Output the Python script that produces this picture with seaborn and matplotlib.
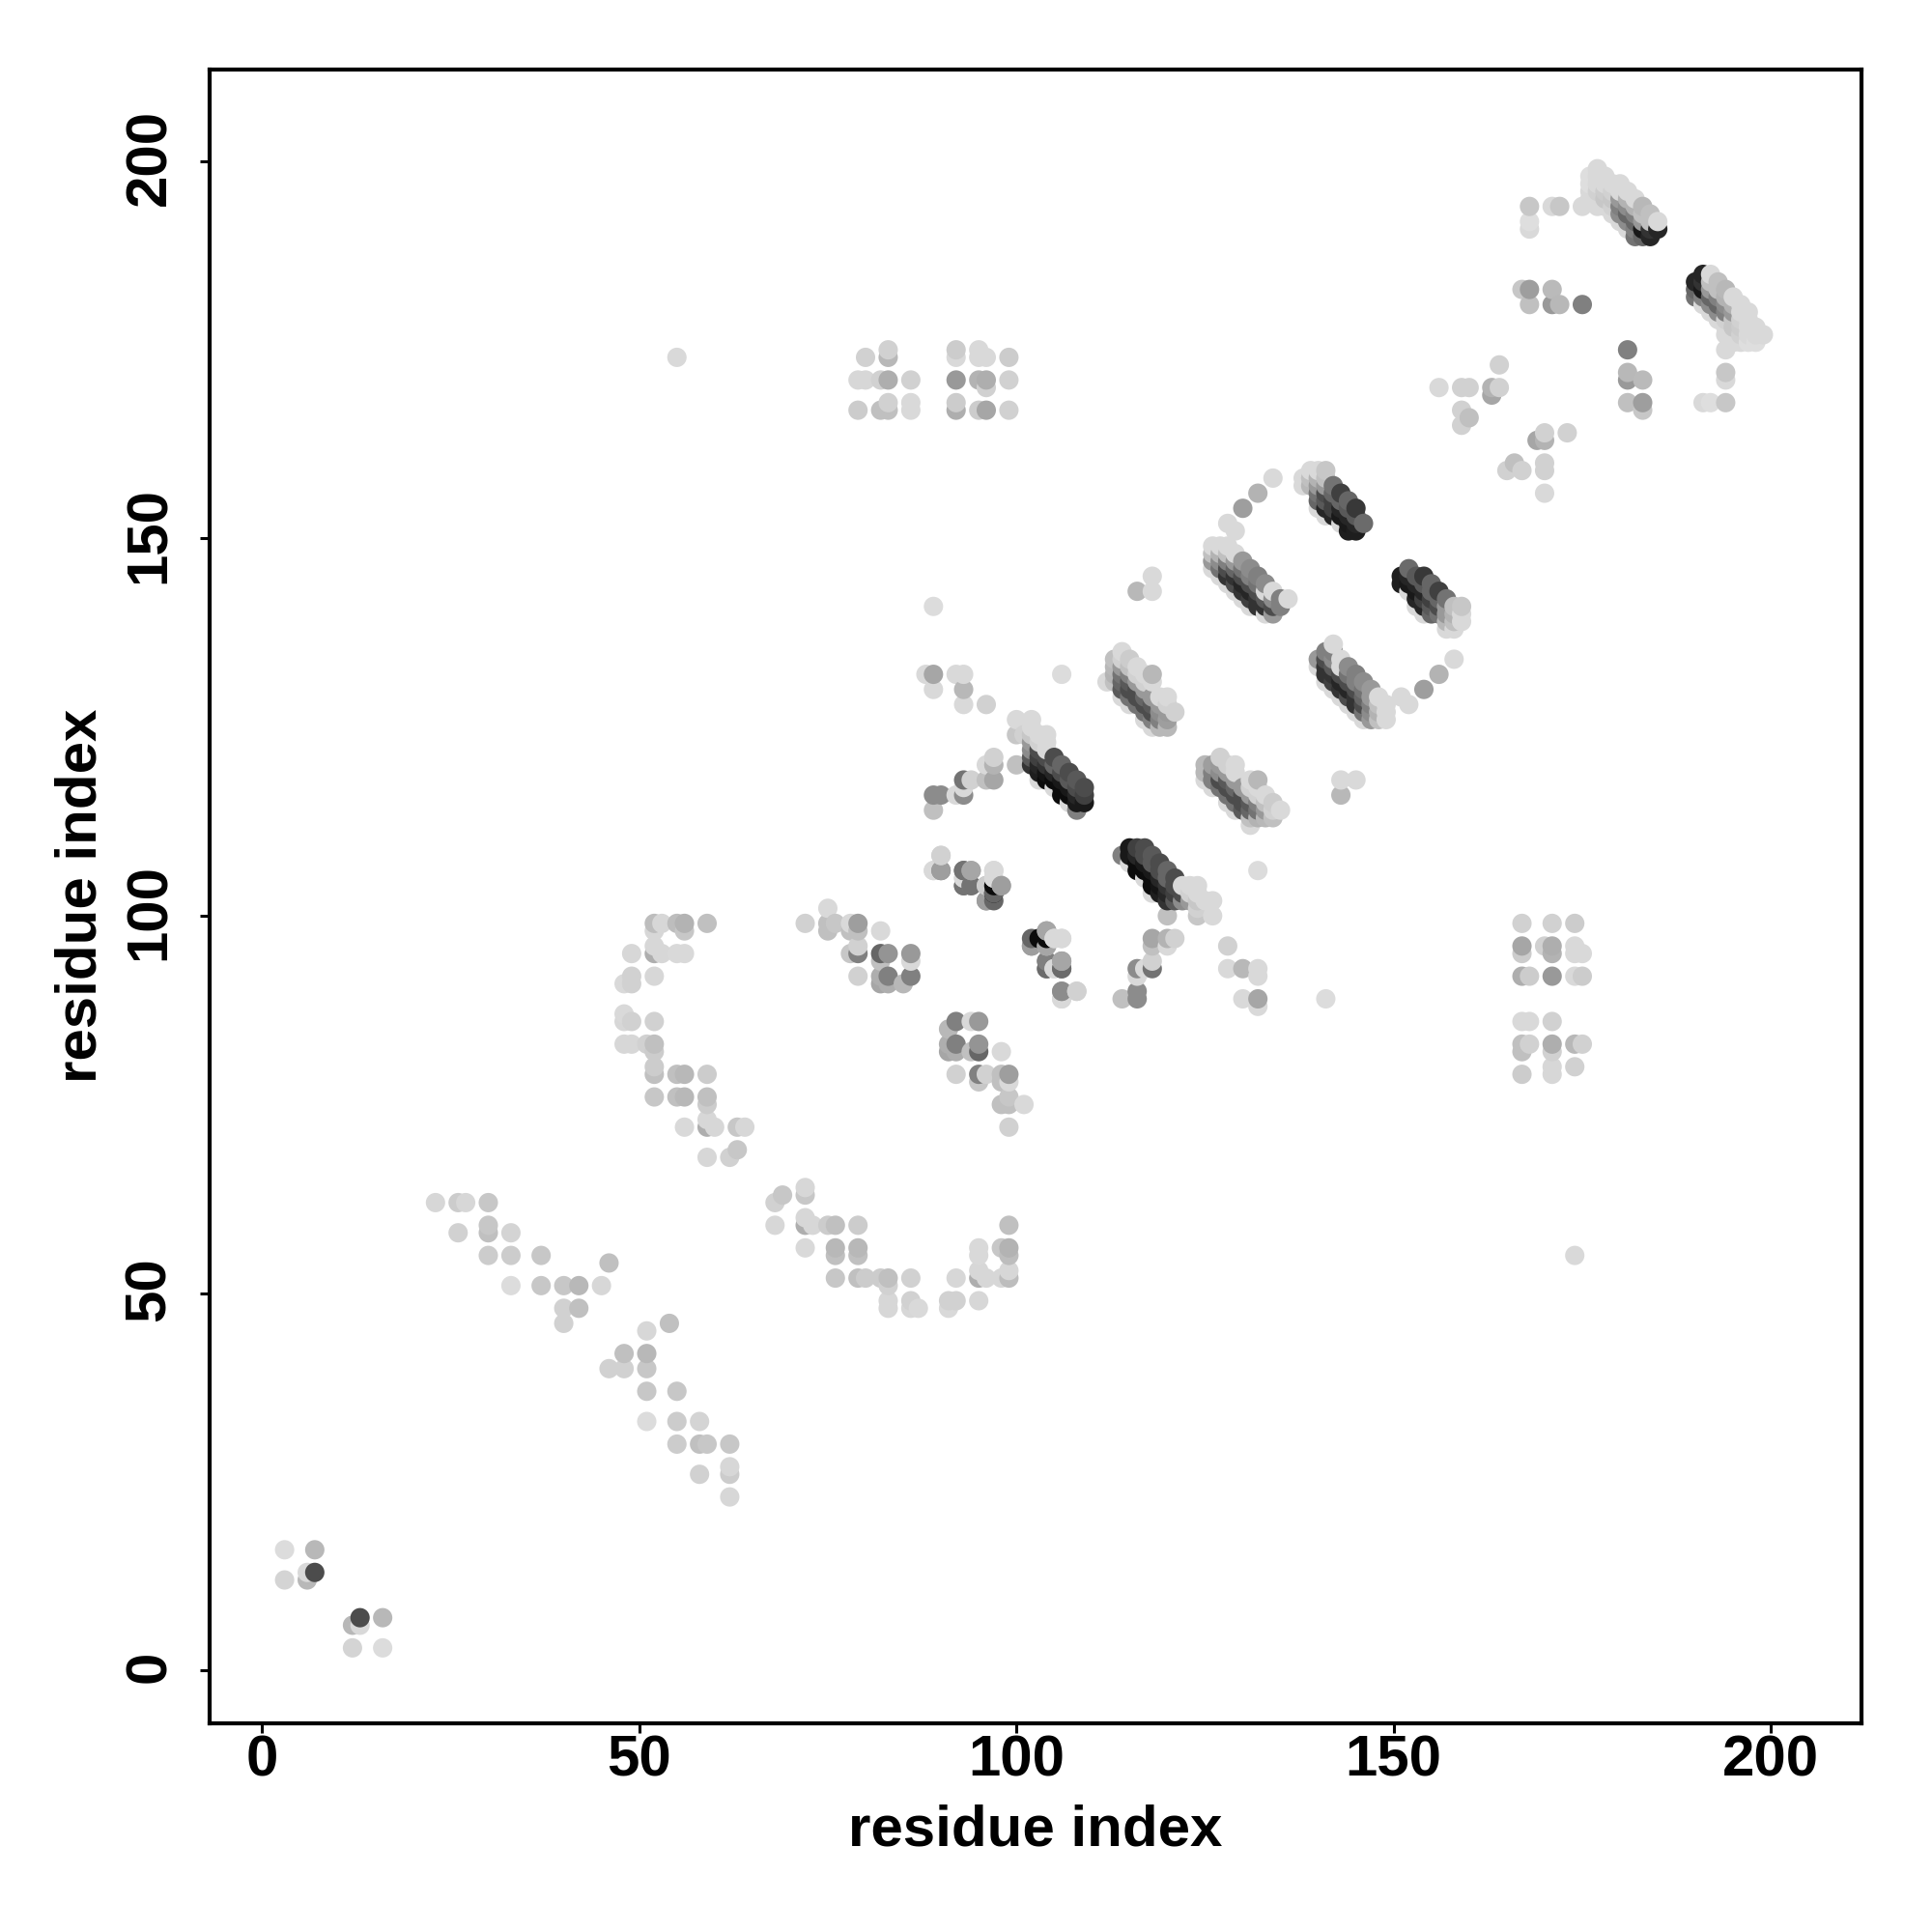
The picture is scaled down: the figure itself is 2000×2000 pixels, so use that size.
import pandas as pd
import numpy as np

import seaborn as sns
import matplotlib.pyplot as plt
from matplotlib.transforms import ScaledTranslation

# contacts are (residue i, residue j, grey level), the map is symmetric so only i<j is listed
terminal = [(3,12,.83),(3,16,.86),(6,12,.72),(6,13,.85),(7,13,.3),(7,16,.72)]

arm_a = [(23,62,.84),(26,62,.8),(27,62,.84),(30,62,.78),(26,58,.82),(30,58,.75),(30,59,.78),
         (33,58,.83),(30,55,.8),(33,55,.8),(37,55,.78),(33,51,.86),(37,51,.78),(40,51,.78),
         (42,51,.72),(45,51,.84),(46,54,.75),(40,48,.82),(42,48,.75),(40,46,.82)]

arm_b = [(48,83,.84),(49,83,.84),(48,86,.84),(49,86,.82),(48,87,.85),(48,91,.85),(49,91,.82),
         (49,92,.82),(49,95,.84),(52,76,.78),(52,79,.75),(52,80,.8),(52,82,.8),(52,83,.75),
         (51,83,.82),(52,86,.82),(52,92,.84),(52,95,.68),(53,95,.84),(52,96,.84),(52,98,.84),
         (52,99,.74),(53,99,.84),(55,76,.75),(56,76,.72),(55,79,.75),(56,79,.72),(55,95,.85),
         (56,95,.85),(56,98,.78),(55,99,.74),(56,99,.7),(56,72,.85),(59,68,.84),(59,72,.68),
         (60,72,.84),(59,73,.84),(59,75,.8),(59,76,.75),(59,79,.8),(59,99,.75),(62,68,.82),
         (63,69,.78),(63,72,.78),(64,72,.84),(55,174,.85)]

block_a = [(72,99,.82),(75,98,.75),(75,99,.75),(75,101,.85),(76,99,.78),(78,95,.78),(78,98,.75),
           (78,99,.85),(79,92,.82),(79,95,.5),(79,96,.82),(79,98,.75),(79,99,.62),(82,91,.65),
           (82,92,.68),(82,94,.75),(82,95,.4),(82,98,.85),(83,91,.68),(83,92,.5),(83,95,.58),
           (85,91,.72),(86,92,.5),(86,94,.85),(86,95,.6)]

grid_a = [(79,167,.8),(79,171,.84),(80,171,.84),(80,174,.82),(82,167,.75),(82,171,.82),(83,167,.75),
          (83,168,.82),(83,171,.68),(83,174,.72),(83,175,.82),(86,167,.85),(86,168,.85),(86,171,.82),
          (92,167,.68),(92,168,.8),(92,171,.6),(92,174,.85),(92,175,.8),(95,167,.8),(95,171,.7),
          (95,174,.85),(95,175,.85),(96,167,.65),(96,170,.82),(96,171,.68),(96,174,.85),(99,167,.82),
          (99,171,.82),(99,174,.8)]

scatter_a = [(88,132,.85),(89,132,.65),(89,130,.85),(92,132,.85),(93,132,.85),(93,130,.72),(93,128,.85),
             (96,128,.82),(106,132,.86),(89,141,.86),(116,143,.72),(118,143,.85),(118,145,.85),
             (97,121,.82),(97,120,.7),(96,120,.85),(97,118,.65),(96,118,.75),(93,118,.45),(94,118,.82),
             (93,117,.85),(93,116,.55),(92,116,.85),(89,116,.55),(90,116,.55),(89,114,.75),
             (90,108,.82),(89,106,.85),(90,106,.55),(93,106,.42),(94,106,.65),(93,105,.85),(93,104,.42),
             (94,104,.5),(97,106,.85),(97,105,.85),(96,104,.65),(98,104,.65),(97,103,.05),(97,102,.4),
             (96,102,.62),(104,98,.62),(103,97,.4),(104,97,.05),(105,97,.85),(106,97,.85),(102,96,.62),
             (104,96,.8),(104,94,.45),(104,93,.45),(105,93,.85),(106,94,.65),(106,93,.45),(106,90,.62),
             (108,90,.82),(106,89,.85)]

strip_a = [(100,126,.85),(100,124,.78),(100,120,.75),(101,124,.82),(102,126,.85),(102,125,.85),(102,124,.78),
           (102,123,.6),(102,122,.55),(102,121,.35),(102,120,.2),(103,124,.85),(103,123,.82),(103,122,.3),
           (103,121,.25),(103,120,.15),(103,119,.12),(103,118,.85),(104,124,.85),(104,123,.85),(104,122,.85),
           (104,121,.3),(104,120,.2),(104,119,.08),(104,118,.05),(105,121,.3),(105,120,.4),(105,119,.15),
           (105,118,.05),(105,117,.85),(106,120,.4),(106,119,.3),(106,118,.1),(106,117,.05),(106,116,.05),
           (107,119,.3),(107,118,.35),(107,117,.1),(107,116,.05),(107,115,.85),(108,118,.35),(108,117,.3),
           (108,116,.15),(108,115,.1),(108,114,.5),(109,117,.3),(109,116,.25),(109,115,.1)]

strip_b = [(112,131,.85),(113,134,.75),(113,133,.72),(113,132,.7),(113,131,.75),(114,135,.85),(114,134,.82),
           (114,133,.6),(114,132,.45),(114,131,.4),(114,130,.35),(114,129,.85),(115,134,.8),(115,133,.75),
           (115,132,.5),(115,131,.35),(115,130,.3),(115,129,.45),(115,128,.85),(116,133,.85),(116,132,.82),
           (116,131,.6),(116,130,.3),(116,129,.3),(116,128,.45),(117,132,.85),(117,131,.82),(117,130,.6),
           (117,129,.4),(117,128,.3),(117,127,.45),(117,126,.85),(118,132,.72),(118,131,.85),(118,129,.6),
           (118,128,.35),(118,127,.3),(118,126,.5),(118,125,.85),(119,129,.85),(119,128,.6),(119,127,.55),
           (119,126,.5),(119,125,.72),(120,129,.85),(120,128,.82),(120,127,.6),(120,126,.62),(120,125,.72),
           (121,127,.82)]

strip_d = [(126,149,.85),(126,148,.75),(126,147,.6),(126,146,.85),(127,149,.85),(127,148,.7),(127,147,.55),
           (127,146,.45),(127,145,.85),(128,149,.85),(128,148,.75),(128,147,.5),(128,146,.3),(128,145,.2),
           (128,144,.85),(129,148,.85),(129,147,.6),(129,146,.4),(129,145,.2),(129,144,.3),(129,143,.85),
           (130,147,.6),(130,146,.45),(130,145,.3),(130,144,.15),(130,143,.2),(130,142,.85),(131,146,.55),
           (131,145,.5),(131,144,.3),(131,143,.15),(131,142,.25),(131,141,.85),(132,145,.5),(132,144,.45),
           (132,143,.3),(132,142,.2),(132,141,.2),(133,144,.55),(133,143,.85),(133,142,.35),(133,141,.2),
           (133,140,.85),(134,143,.85),(134,142,.55),(134,141,.3),(134,140,.6),(135,142,.5),(135,141,.5),
           (136,142,.85)]

turn_c = [(128,152,.85),(129,151,.85),(130,154,.62),(132,156,.7),(134,158,.85)]

strip_e = [(138,158,.85),(138,157,.85),(139,159,.85),(139,158,.75),(139,157,.72),(140,159,.85),(140,158,.7),
           (140,157,.6),(140,156,.45),(140,155,.4),(140,154,.85),(141,159,.78),(141,158,.75),(141,157,.6),
           (141,156,.3),(141,155,.35),(141,154,.15),(141,153,.85),(142,157,.45),(142,156,.4),(142,155,.25),
           (142,154,.25),(142,153,.15),(143,156,.25),(143,155,.4),(143,154,.15),(143,153,.1),(143,152,.85),
           (144,155,.4),(144,154,.35),(144,153,.15),(144,152,.1),(144,151,.12),(145,154,.22),(145,153,.35),
           (145,152,.15),(145,151,.12),(146,152,.42)]

cterm = [(156,170,.85),(159,165,.82),(159,167,.82),(159,170,.82),(160,166,.75),(160,170,.82),
         (163,169,.65),(163,170,.7),(164,170,.82),(164,173,.82),(167,183,.78),(168,181,.75),
         (168,183,.62),(168,191,.85),(168,192,.87),(168,194,.78),(171,181,.6),(171,183,.73),
         (171,194,.85),(172,181,.72),(172,194,.78),(175,181,.5),(175,194,.85)]

strip_h = [(176,198,.87),(176,197,.87),(176,196,.85),(176,195,.85),(177,199,.85),(177,198,.85),(177,197,.85),
           (177,196,.82),(177,195,.85),(177,194,.85),(178,198,.85),(178,197,.85),(178,196,.8),(178,195,.78),
           (178,194,.85),(179,197,.85),(179,196,.82),(179,195,.78),(179,194,.82),(179,193,.85),(180,197,.85),
           (180,196,.85),(180,195,.6),(180,194,.5),(180,193,.55),(180,192,.85),(181,196,.85),(181,195,.7),
           (181,194,.55),(181,193,.4),(181,192,.55),(181,191,.85),(182,195,.85),(182,194,.7),(182,193,.5),
           (182,192,.4),(182,191,.5),(182,190,.45),(183,194,.72),(183,193,.75),(183,192,.6),(183,191,.1),
           (183,190,.4),(184,193,.75),(184,192,.75),(184,191,.2),(184,190,.15),(185,192,.85),(185,191,.15)]

tick_values = [0, 50, 100, 150, 200]
axis_label = "residue index"

groups = [terminal, arm_a, arm_b, block_a, grid_a, scatter_a, strip_a, strip_b, strip_d, turn_c,
          strip_e, cterm, strip_h]

upper = pd.DataFrame(np.concatenate(groups), columns=["i", "j", "grey"])
lower = upper.rename(columns={"i": "j", "j": "i"})
# plotted in index order, later dots sit on top of earlier ones
df = pd.concat([upper, lower]).sort_values(["i", "j"], kind="stable")

sns.set_theme(style="white")
plt.rcParams["font.family"] = ["Liberation Sans", "DejaVu Sans"]

fig = plt.figure(figsize=(10, 10), dpi=200)
ax = fig.add_axes([216.5/2000, 1-1784/2000, (1927-216.5)/2000, (1784-71.5)/2000])

sns.scatterplot(data=df, x="i", y="j", hue="grey", palette="gray", hue_norm=(0, 1),
                s=52, linewidth=0, legend=False, ax=ax)

ax.set_xlim(-7, 212)
ax.set_ylim(-7, 212.2)
ax.set_xticks(tick_values)
ax.set_yticks(tick_values)
ax.set_xticklabels(tick_values, fontsize=21.6, fontweight="bold")
ax.set_yticklabels(tick_values, fontsize=21.6, fontweight="bold", rotation=90, va="center")
ax.tick_params(axis="both", length=3.6, width=1.1, color="black", labelcolor="black",
               bottom=True, left=True)
ax.tick_params(axis="x", pad=0.6)
ax.tick_params(axis="y", pad=8.5)
# rotated labels sit a little low otherwise
nudge = ScaledTranslation(0, 1.4/72, fig.dpi_scale_trans)
for label in ax.get_yticklabels():
    label.set_transform(label.get_transform() + nudge)
ax.set_xlabel(axis_label, fontsize=21.6, fontweight="bold", color="black", labelpad=6)
ax.set_ylabel(axis_label, fontsize=21.6, fontweight="bold", color="black", labelpad=6)
for side in ax.spines.values():
    side.set_visible(True)
    side.set_color("black")
    side.set_linewidth(1.5)

fig.savefig("out.png", dpi=200, facecolor="white")
